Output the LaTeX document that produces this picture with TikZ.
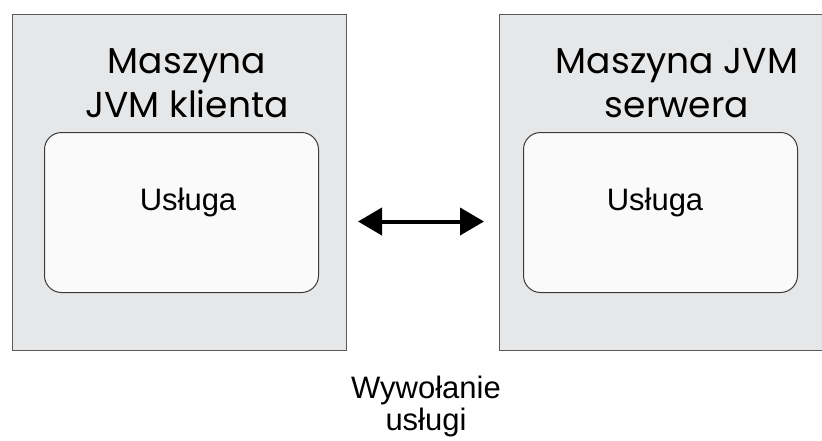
\documentclass[tikz,border=0pt]{standalone}
\usepackage{fontspec}
\setmainfont{Liberation Sans}
\newfontfamily\titlefont{Poppins}
\usetikzlibrary{arrows.meta,positioning,calc}
\definecolor{jvmfill}{HTML}{E6E7E9}
\definecolor{jvmline}{HTML}{5A5A5A}
\definecolor{svcfill}{HTML}{FAFAFA}
\definecolor{svcline}{HTML}{3A3A3A}

\tikzset{
  jvmbox/.style={draw=jvmline,fill=jvmfill,line width=1pt,minimum width=334pt,minimum height=336pt,anchor=north west,inner sep=0pt},
  svcbox/.style={draw=svcline,fill=svcfill,line width=1pt,rounded corners=17pt,minimum width=274pt,minimum height=160pt,anchor=north west,inner sep=0pt},
  jvmtitle/.style={font=\titlefont\fontsize{36}{44}\selectfont,align=center,anchor=base,inner sep=0pt},
  svclabel/.style={font=\fontsize{31}{36}\selectfont,anchor=base,inner sep=0pt},
  callarrow/.style={line width=4pt,{Triangle[length=24pt,width=27pt]}-{Triangle[length=24pt,width=27pt]}}
}

\begin{document}
\begin{tikzpicture}[x=1pt,y=-1pt]
  \useasboundingbox (0,0) rectangle (822,440);

  % the two machines
  \node[jvmbox] (client) at (12,14) {};
  \node[jvmbox] (server) at (499,14) {};

  \node[jvmtitle] (clienttitle) at (187,117) {Maszyna\\JVM klienta};
  \node[jvmtitle] (servertitle) at (677,117) {Maszyna JVM\\serwera};

  % services inside
  \node[svcbox] (clientsvc) at (44,132) {};
  \node[svcbox] (serversvc) at (523,132) {};
  \node[svclabel] (clientlbl) at (188,210) {Usługa};
  \node[svclabel] (serverlbl) at (655,210) {Usługa};

  % call between them
  \draw[callarrow,shorten <=11pt,shorten >=15pt] ($(client.east)+(0,39)$) -- ($(server.west)+(0,39)$);
  \node[font=\fontsize{31}{32}\selectfont,align=center,anchor=base,inner sep=0pt] (call) at (426,430) {Wywołanie\\usługi};
\end{tikzpicture}
\end{document}
